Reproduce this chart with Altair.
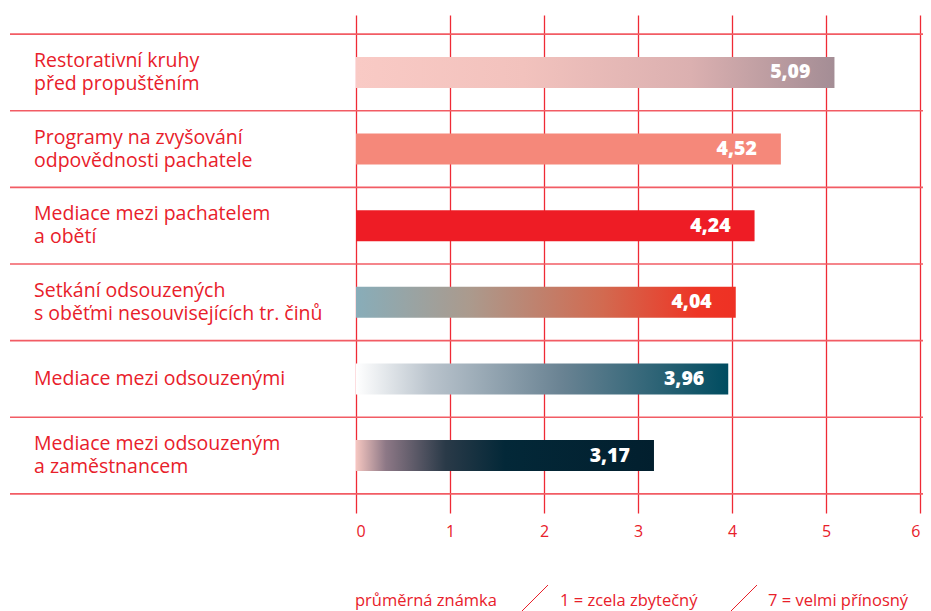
import altair as alt
import pandas as pd

categories = [
    "Restorativní kruhy\npřed propuštěním",
    "Programy na zvyšování\nodpovědnosti pachatele",
    "Mediace mezi pachatelem\na obětí",
    "Setkání odsouzených\ns oběťmi nesouvisejících tr. činů",
    "Mediace mezi odsouzenými",
    "Mediace mezi odsouzeným\na zaměstnancem",
]
values = [5.09, 4.52, 4.24, 4.04, 3.96, 3.17]
x_ticks = [0, 1, 2, 3, 4, 5, 6]
footer_texts = ["průměrná známka", "1 = zcela zbytečný", "7 = velmi přínosný"]

# styles
FONT = "Open Sans"
RED = "#e8202a"
VGRID = "#ef2a35"
HGRID = "#f25c64"
gradients = [
    [(0.0, "#f9cac5"), (0.35, "#f2c2bd"), (0.7, "#dbb0b0"), (1.0, "#a48d95")],
    [(0.0, "#f5887a"), (1.0, "#f5887a")],
    [(0.0, "#ee1c25"), (1.0, "#ee1c25")],
    [(0.0, "#88adb9"), (0.3, "#ab9a8d"), (0.65, "#d26a50"), (0.9, "#ee3525"), (1.0, "#ee3124")],
    [(0.0, "#ffffff"), (0.2, "#b9c3cc"), (0.55, "#6a8393"), (1.0, "#004c60")],
    [(0.0, "#f5c6c0"), (0.1, "#8d7886"), (0.3, "#2a3a48"), (0.5, "#032838"), (1.0, "#021f2e")],
]

lines = [c.split("\n") for c in categories]
df = pd.DataFrame({
    "idx": list(range(len(categories))),
    "cat": categories,
    "value": values,
    "label": [f"{v:.2f}".replace(".", ",") for v in values],
    "line1": [l[0] for l in lines],
    "line2": [l[1] if len(l) > 1 else "" for l in lines],
    "multi": [len(l) > 1 for l in lines],
})

ysc = alt.Scale(domain=categories, paddingInner=0, paddingOuter=0.25)
Y = alt.Y("cat:N", scale=ysc, axis=None)
X = alt.X(
    "value:Q",
    scale=alt.Scale(domain=[0, 6], nice=False, zero=True),
    axis=alt.Axis(
        values=x_ticks, grid=True, gridColor=VGRID, gridWidth=1.3, domain=False,
        ticks=False, labelColor=RED, labelFontSize=16, labelFont=FONT,
        labelPadding=10, title=None, format="d",
    ),
)

base = alt.Chart(df)

hlines_top = base.mark_rule(color=HGRID, strokeWidth=1.6).encode(
    y=alt.Y("cat:N", scale=ysc, axis=None, bandPosition=0),
    x=alt.value(-346), x2=alt.value(567),
)
hline_bottom = base.transform_filter(alt.datum.idx == len(categories) - 1).mark_rule(
    color=HGRID, strokeWidth=1.6
).encode(
    y=alt.Y("cat:N", scale=ysc, axis=None, bandPosition=1),
    x=alt.value(-346), x2=alt.value(567),
)

bar_layers = []
for i, stops in enumerate(gradients):
    grad = alt.LinearGradient(
        gradient="linear",
        stops=[alt.GradientStop(offset=o, color=c) for o, c in stops],
        x1=0, x2=1, y1=0, y2=0,
    )
    bar_layers.append(
        base.transform_filter(alt.datum.idx == i)
        .mark_bar(size=31, color=grad)
        .encode(x=X, y=Y)
    )

value_text = base.mark_text(
    align="right", baseline="middle", dx=-24, color="white",
    font=FONT, fontSize=19.5, fontWeight=800,
).encode(x=X, y=Y, text="label:N")

label_style = dict(align="left", baseline="middle", color=RED, font=FONT, fontSize=19.5)
cat_line1 = base.transform_filter(alt.datum.multi == True).mark_text(
    dy=-11.5, **label_style
).encode(x=alt.value(-322), y=Y, text="line1:N")
cat_line2 = base.transform_filter(alt.datum.multi == True).mark_text(
    dy=11.5, **label_style
).encode(x=alt.value(-322), y=Y, text="line2:N")
cat_single = base.transform_filter(alt.datum.multi == False).mark_text(
    **label_style
).encode(x=alt.value(-322), y=Y, text="line1:N")

footer_layers = []
for t, xpos in zip(footer_texts, [-1, 204, 412]):
    footer_layers.append(
        alt.Chart(pd.DataFrame({"t": [t]})).mark_text(
            align="left", baseline="middle", color=RED, font=FONT, fontSize=16.5
        ).encode(x=alt.value(xpos), y=alt.value(586), text="t:N")
    )
for x1 in [165, 374]:
    footer_layers.append(
        alt.Chart(pd.DataFrame({"t": [0]})).mark_rule(color=RED, strokeWidth=1).encode(
            x=alt.value(x1), x2=alt.value(x1 + 27), y=alt.value(597), y2=alt.value(570)
        )
    )

chart = alt.layer(
    hlines_top, hline_bottom, *bar_layers, value_text, cat_line1, cat_line2, cat_single,
    *footer_layers
).properties(
    width=564, height=498,
    padding={"left": 348, "top": 7, "right": 3, "bottom": 98},
    autosize=alt.AutoSizeParams(type="none"),
).configure_view(stroke=None)

chart.save("out.html", embed_options={"renderer": "svg", "actions": False})
